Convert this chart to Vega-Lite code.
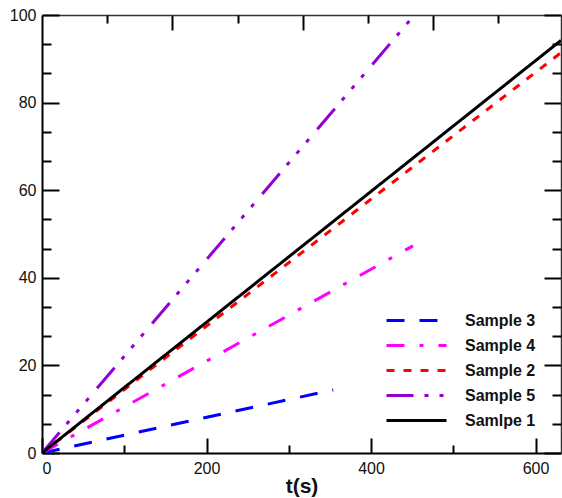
{
  "$schema": "https://vega.github.io/schema/vega-lite/v6.json",
  "width": 519,
  "height": 438,
  "autosize": "none",
  "padding": {"left": 42, "top": 15, "right": 1, "bottom": 45},
  "background": "white",
  "config": {
    "view": {"stroke": null},
    "axis": {"grid": false, "labelFont": "Liberation Sans", "labelFontSize": 16, "labelColor": "#111", "domainColor": "#000", "tickColor": "#000", "tickWidth": 2, "domainWidth": 2}
  },
  "data": {"values": [
    {"t": 0, "v": 0, "series": "Sample 3"},
    {"t": 354, "v": 14.4, "series": "Sample 3"},
    {"t": 0, "v": 0, "series": "Sample 4"},
    {"t": 451, "v": 47.3, "series": "Sample 4"},
    {"t": 0, "v": 0, "series": "Sample 2"},
    {"t": 631, "v": 91.4, "series": "Sample 2"},
    {"t": 0, "v": 0, "series": "Sample 5"},
    {"t": 451, "v": 99.6, "series": "Sample 5"},
    {"t": 0, "v": 0, "series": "Samlpe 1"},
    {"t": 631, "v": 94.2, "series": "Samlpe 1"}
  ]},
  "resolve": {"axis": {"x": "independent", "y": "independent"}},
  "layer": [
    {
      "mark": {"type": "line", "strokeWidth": 3, "clip": true},
      "encoding": {
        "x": {"field": "t", "type": "quantitative", "scale": {"domain": [0, 631], "nice": false, "zero": false},
          "axis": {"orient": "bottom", "values": [0, 200, 400, 600], "tickSize": -15, "labelPadding": 22, "title": "t(s)", "titleFont": "Liberation Sans", "titleFontSize": 21, "titleFontWeight": "bold", "titlePadding": -1, "titleColor": "#111"}},
        "y": {"field": "v", "type": "quantitative", "scale": {"domain": [0, 100], "nice": false},
          "axis": {"orient": "left", "values": [0, 20, 40, 60, 80, 100], "tickSize": -17, "labelPadding": 23, "title": null}},
        "color": {"field": "series", "type": "nominal", "title": null,
          "scale": {"domain": ["Sample 3", "Sample 4", "Sample 2", "Sample 5", "Samlpe 1"], "range": ["#0000ff", "#ff00ff", "#ff0000", "#9400d3", "#000000"]},
          "legend": {"orient": "none", "legendX": 363, "legendY": 294, "symbolType": "M-3,0H3", "symbolSize": 400, "symbolStrokeWidth": 3, "symbolFillColor": "transparent", "labelFont": "Liberation Sans", "labelFontWeight": "bold", "labelFontSize": 16, "labelColor": "#111", "labelOffset": 37, "rowPadding": 5}},
        "strokeDash": {"field": "series", "type": "nominal", "title": null,
          "scale": {"domain": ["Sample 3", "Sample 4", "Sample 2", "Sample 5", "Samlpe 1"], "range": [[18, 15], [18, 15, 4, 15], [8, 9], [27, 11, 4, 11, 4, 11, 4, 13], [1, 0]]}}
      }
    },
    {
      "mark": {"type": "point", "opacity": 0},
      "encoding": {
        "x": {"field": "t", "type": "quantitative", "axis": {"orient": "bottom", "values": [100, 300, 500], "tickSize": -8, "labels": false, "domain": false, "title": null}},
        "y": {"field": "v", "type": "quantitative", "axis": {"orient": "left", "values": [6.667, 13.333, 26.667, 33.333, 46.667, 53.333, 66.667, 73.333, 86.667, 93.333], "tickSize": -9, "labels": false, "domain": false, "title": null}}
      }
    },
    {
      "mark": {"type": "point", "opacity": 0},
      "encoding": {
        "x": {"field": "t", "type": "quantitative", "axis": {"orient": "top", "values": [158.5, 317, 475.5], "tickSize": -15, "labels": false, "domainColor": "#333", "domainWidth": 1.5, "title": null}},
        "y": {"field": "v", "type": "quantitative", "axis": {"orient": "right", "values": [0, 20, 40, 60, 80, 100], "tickSize": -17, "labels": false, "domainColor": "#333", "domainWidth": 1.5, "title": null}}
      }
    },
    {
      "mark": {"type": "point", "opacity": 0},
      "encoding": {
        "x": {"field": "t", "type": "quantitative", "axis": {"orient": "top", "values": [79.25, 237.75, 396.25, 554.75], "tickSize": -8, "labels": false, "domain": false, "title": null}},
        "y": {"field": "v", "type": "quantitative", "axis": {"orient": "right", "values": [6.667, 13.333, 26.667, 33.333, 46.667, 53.333, 66.667, 73.333, 86.667, 93.333], "tickSize": -9, "labels": false, "domain": false, "title": null}}
      }
    }
  ]
}
